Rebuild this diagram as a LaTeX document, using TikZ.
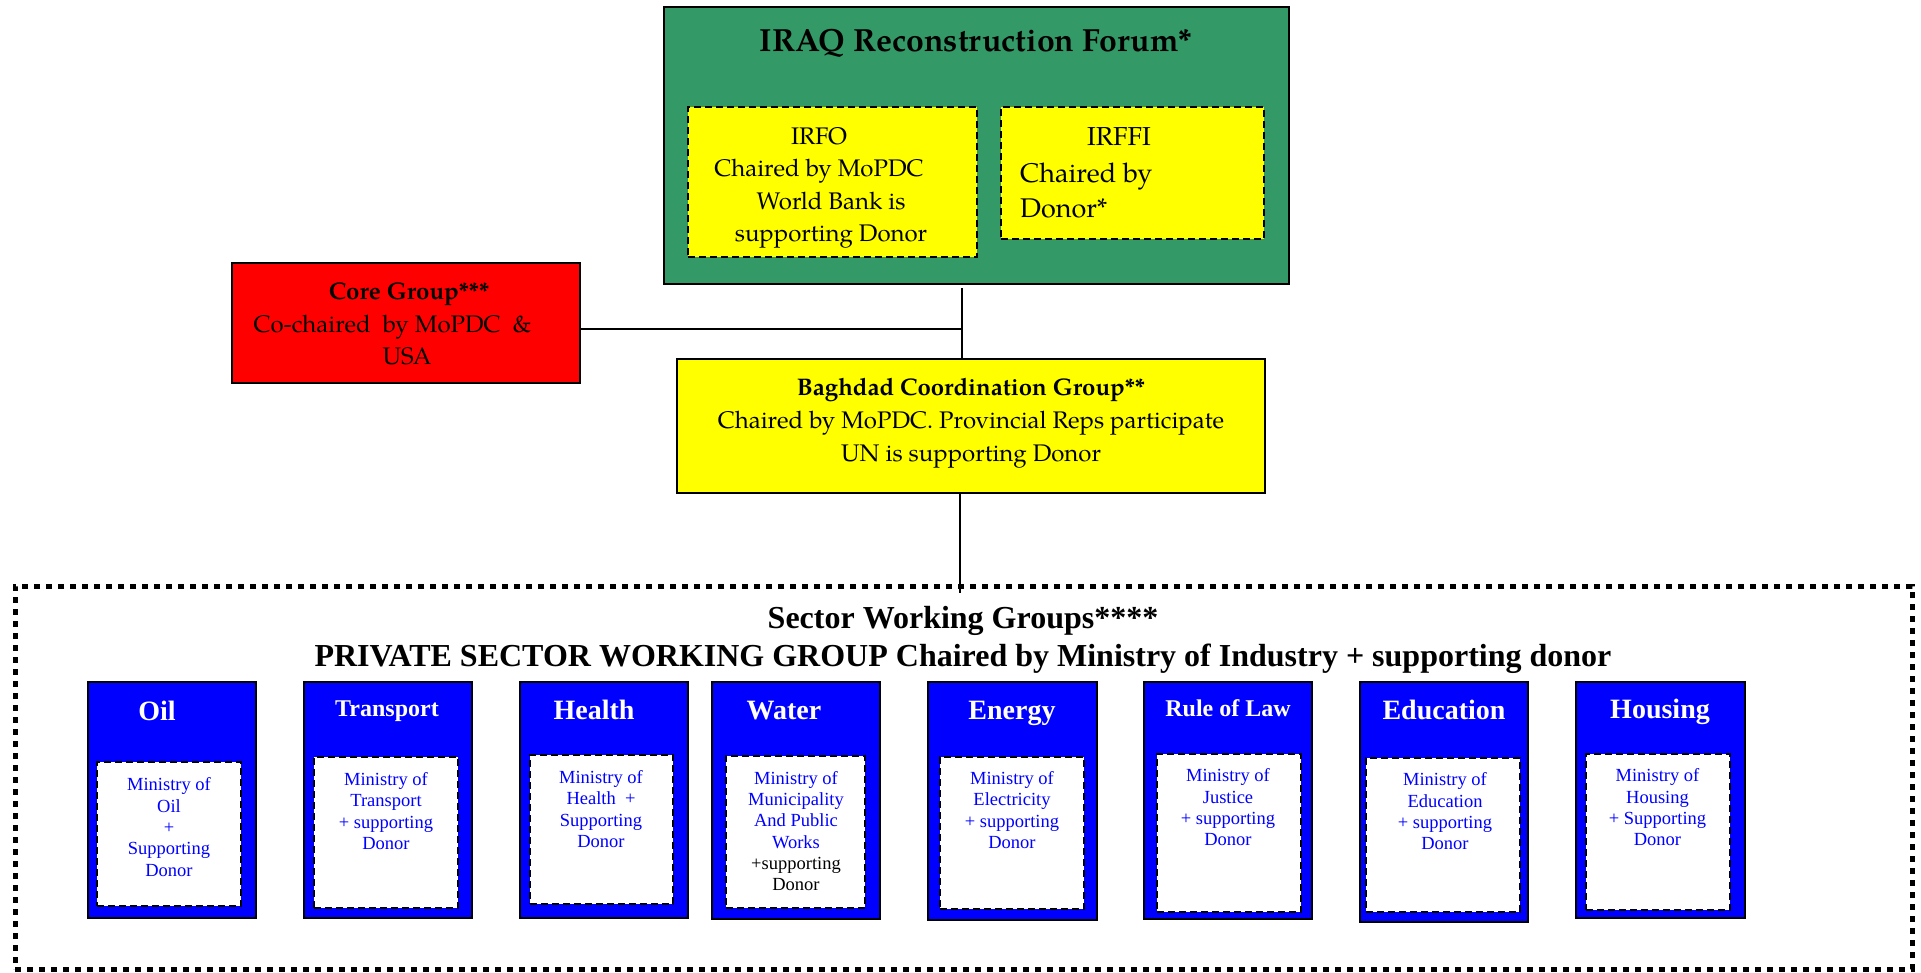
\documentclass[tikz,border=0pt]{standalone}
\usepackage{fontspec}
\setmainfont{Liberation Serif}
\newfontfamily\palfont[Extension=.otf, UprightFont=*-regular, BoldFont=*-bold]{texgyrepagella}
\definecolor{forum}{HTML}{339966}
\definecolor{yel}{HTML}{FFFF00}
\definecolor{redbox}{HTML}{FF0000}
\definecolor{bluebox}{HTML}{0000FF}
\newcommand\padw[1]{\rule{#1}{0pt}}
\tikzset{
  plainbox/.style={draw=black, line width=2pt, inner sep=0pt},
  dashbox/.style={draw=black, line width=2pt, dash pattern=on 7pt off 4pt, inner sep=0pt},
  sectorbox/.style={plainbox, fill=bluebox, line width=2.5pt},
  whitebox/.style={dashbox, fill=white},
  sectitle/.style={text=white, inner sep=0pt, font=\bfseries\fontsize{28}{32}\selectfont},
  sectitlesmall/.style={text=white, inner sep=0pt, font=\bfseries\fontsize{24}{28}\selectfont},
  sectext/.style={text=bluebox, inner sep=0pt, align=center, font=\fontsize{18.5}{21.3}\selectfont},
  paltext/.style={inner sep=0pt, align=center, font=\palfont\fontsize{24}{32.5}\selectfont},
  conn/.style={draw=black, line width=1.6pt}
}
\begin{document}
\begin{tikzpicture}[x=1pt,y=-1pt]
\useasboundingbox (0,0) rectangle (1921,972);
% top forum
\node[plainbox, fill=forum, minimum width=625pt, minimum height=277pt] (forum) at (976.5,145.5) {};
\node[inner sep=0pt, font=\palfont\bfseries\fontsize{32}{38}\selectfont] (forumtitle) at (976,43) {IRAQ Reconstruction Forum*};
\node[dashbox, fill=yel, minimum width=289pt, minimum height=150pt] (irfo) at (832.5,182) {};
\node[paltext] (irfotext) at (825,188) {IRFO\padw{12pt}\\Chaired by MoPDC\padw{12pt}\\\padw{12pt}World Bank is\\\padw{12pt}supporting Donor};
\node[dashbox, fill=yel, minimum width=263pt, minimum height=132pt] (irffi) at (1132.5,173) {};
\node[paltext, font=\palfont\fontsize{26}{30}\selectfont] (irffititle) at (1119,137) {IRFFI};
\node[paltext, align=left, anchor=west, font=\palfont\fontsize{27}{35}\selectfont] (irffitext) at (1020,190.5) {Chaired by\\Donor*};
% core group
\node[plainbox, fill=redbox, minimum width=348pt, minimum height=120pt] (core) at (406,323) {};
\node[paltext] (coretext) at (403,324) {\padw{12pt}\bfseries Core Group***\\Co-chaired~ by MoPDC~ \&\padw{21pt}\\\padw{8pt}USA};
% baghdad
\node[plainbox, fill=yel, minimum width=588pt, minimum height=134pt] (bcg) at (971,426) {};
\node[paltext, font=\palfont\fontsize{24}{33}\selectfont] (bcgtext) at (971,423) {\bfseries Baghdad Coordination Group**\\Chaired by MoPDC. Provincial Reps participate\\UN is supporting Donor};
% sector working groups frame
\node[draw=black, line width=5pt, dash pattern=on 6pt off 6pt, inner sep=0pt, minimum width=1897pt, minimum height=383pt] (swg) at (963.5,777.5) {};
\node[inner sep=0pt, font=\bfseries\fontsize{32}{38}\selectfont] (swgtitle) at (963,620.5) {Sector Working Groups****};
\node[inner sep=0pt, font=\bfseries\fontsize{32}{38}\selectfont] (pswg) at (963,659) {PRIVATE SECTOR WORKING GROUP Chaired by Ministry of Industry + supporting donor};
% connectors
\coordinate (hj) at (962,329);
\coordinate (swgtop) at (960,593);
\draw[conn] (962,288) -- (bcg.north -| hj);
\draw[conn] (core.east |- hj) -- (hj);
\draw[conn] (bcg.south -| swgtop) -- (swgtop);
% Oil
\node[sectorbox, minimum width=168pt, minimum height=236pt] (oil) at (172,800) {};
\node[sectitle] (oilt) at (157,711) {Oil};
\node[whitebox, minimum width=144pt, minimum height=144pt] (oilw) at (169,834) {};
\node[sectext] (oiltext) at (169,827) {Ministry of\\Oil\\+\\Supporting\\Donor};
% Transport
\node[sectorbox, minimum width=168pt, minimum height=236pt] (trans) at (388,800) {};
\node[sectitlesmall] (transt) at (387,711.5) {Transport};
\node[whitebox, minimum width=144pt, minimum height=151pt] (transw) at (386,832.5) {};
\node[sectext] (transtext) at (386,811) {Ministry of\\Transport\\+ supporting\\Donor};
% Health
\node[sectorbox, minimum width=168pt, minimum height=236pt] (health) at (604,800) {};
\node[sectitle] (healtht) at (594,710) {Health};
\node[whitebox, minimum width=143pt, minimum height=149pt] (healthw) at (601.5,829.5) {};
\node[sectext] (healthtext) at (601,809) {Ministry of\\Health~ +\\Supporting\\Donor};
% Water
\node[sectorbox, minimum width=168pt, minimum height=237pt] (water) at (796,800.5) {};
\node[sectitle] (watert) at (784,711) {Water};
\node[whitebox, minimum width=139pt, minimum height=152pt] (waterw) at (795.5,832) {};
\node[sectext] (watertext) at (796,831) {Ministry of\\Municipality\\And Public\\Works\\\textcolor{black}{+supporting}\\\textcolor{black}{Donor}};
% Energy
\node[sectorbox, minimum width=169pt, minimum height=238pt] (energy) at (1012.5,801) {};
\node[sectitle] (energyt) at (1012,713) {Energy};
\node[whitebox, minimum width=144pt, minimum height=152pt] (energyw) at (1012,833) {};
\node[sectext] (energytext) at (1012,810) {Ministry of\\Electricity\\+ supporting\\Donor};
% Rule of Law
\node[sectorbox, minimum width=168pt, minimum height=237pt] (law) at (1228,800.5) {};
\node[sectitlesmall] (lawt) at (1228,708) {Rule of Law};
\node[whitebox, minimum width=144pt, minimum height=158pt] (laww) at (1229,833) {};
\node[sectext] (lawtext) at (1228,807.5) {Ministry of\\Justice\\+ supporting\\Donor};
% Education
\node[sectorbox, minimum width=168pt, minimum height=240pt] (edu) at (1444,802) {};
\node[sectitle] (edut) at (1444,710) {Education};
\node[whitebox, minimum width=154pt, minimum height=154pt] (eduw) at (1443,835) {};
\node[sectext] (edutext) at (1445,811.5) {Ministry of\\Education\\+ supporting\\Donor};
% Housing
\node[sectorbox, minimum width=169pt, minimum height=236pt] (house) at (1660.5,800) {};
\node[sectitle] (houset) at (1660,711.5) {Housing};
\node[whitebox, minimum width=144pt, minimum height=156pt] (housew) at (1658,832) {};
\node[sectext] (housetext) at (1657.5,807.5) {Ministry of\\Housing\\+ Supporting\\Donor};
\end{tikzpicture}
\end{document}
